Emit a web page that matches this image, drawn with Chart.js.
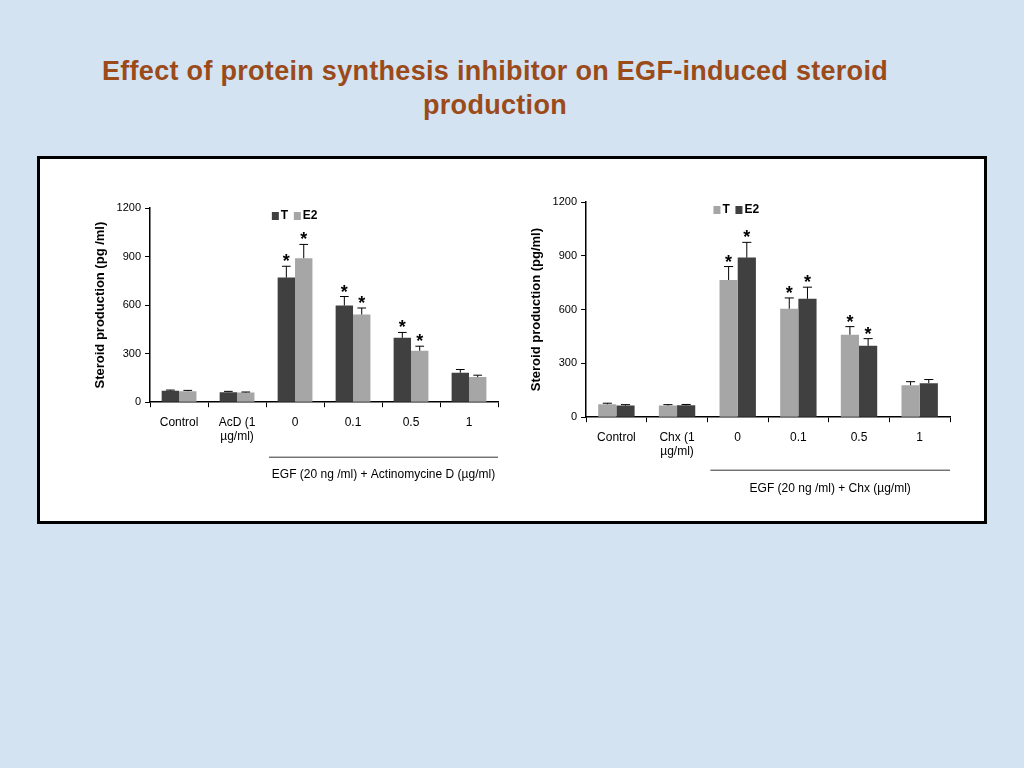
<!DOCTYPE html>
<html><head><meta charset="utf-8">
<script src="https://cdn.jsdelivr.net/npm/chart.js@4"></script>
<style>
body{margin:0;width:1024px;height:768px;background:#d3e3f1;position:relative;overflow:hidden;font-family:'Liberation Sans',Arial,sans-serif}
#title{position:absolute;left:0;width:990px;top:54px;text-align:center;color:#9b4a1a;font-weight:bold;font-size:27px;line-height:34px;letter-spacing:0.3px}
#box{position:absolute;left:37px;top:156px;width:944px;height:362px;background:#fff;border:3px solid #000}
.c{position:absolute}
</style></head><body>
<div id="title">Effect of protein synthesis inhibitor on EGF-induced steroid<br>production</div>
<div id="box"></div>
<div class="c" style="left:85px;top:188px;width:425px;height:305px"><canvas id="c1"></canvas></div>
<div class="c" style="left:525px;top:182px;width:435px;height:325px"><canvas id="c2"></canvas></div>
<script>
const labels1=['Control',['AcD (1','µg/ml)'],'0','0.1','0.5','1'];
const labels2=['Control',['Chx (1','µg/ml)'],'0','0.1','0.5','1'];
const yTicks=[0,300,600,900,1200];
const leftT=[70,62,770,598,398,182];
const leftE2=[68,60,890,542,318,155];
const leftTerr=[5,5,70,55,33,20];
const leftE2err=[5,3,85,40,28,12];
const rightT=[72,65,765,605,460,178];
const rightE2=[65,66,890,660,398,190];
const rightTerr=[6,5,75,60,45,20];
const rightE2err=[5,5,85,65,40,20];
const starsAt=[false,false,true,true,true,false];
const DARK='#404040',LIGHT='#a6a6a6';
const FONT="'Liberation Sans Narrow','Liberation Sans',Arial,sans-serif";

function make(id,labels,T,E2,Terr,E2err,cT,cE,footer,yTitle,pad,fOff,tOff){
  const errs=[Terr,E2err];
  const plugin={id:'extra',afterDatasetsDraw(ch){
    const ctx=ch.ctx;ctx.save();
    ch.data.datasets.forEach((ds,di)=>{
      const meta=ch.getDatasetMeta(di);
      meta.data.forEach((bar,i)=>{
        const v=ds.data[i],e=errs[di][i];
        const yt=ch.scales.y.getPixelForValue(v+e),yb=ch.scales.y.getPixelForValue(v);
        ctx.strokeStyle='#000';ctx.lineWidth=1;ctx.beginPath();
        ctx.moveTo(bar.x,yb);ctx.lineTo(bar.x,yt);ctx.moveTo(bar.x-bar.width/4,yt);ctx.lineTo(bar.x+bar.width/4,yt);ctx.stroke();
        if(starsAt[i]){ctx.fillStyle='#000';ctx.font='bold 18px '+FONT;ctx.textAlign='center';ctx.fillText('*',bar.x,yt+1);}
      });
    });
    const a=ch.chartArea;const lx=a.left+(a.right-a.left)*0.35,ly=a.top+8;
    ctx.font='bold 12px '+FONT;ctx.textBaseline='middle';ctx.textAlign='left';
    ctx.fillStyle=cT;ctx.fillRect(lx,ly-4,7,8);ctx.fillStyle='#000';ctx.fillText('T',lx+9,ly);
    ctx.fillStyle=cE;ctx.fillRect(lx+22,ly-4,7,8);ctx.fillStyle='#000';ctx.fillText('E2',lx+31,ly);
    const x2=ch.scales.x;const l=x2.getPixelForValue(2)-x2.width/12*0.9,r=a.right;
    const fy=a.bottom+fOff;
    ctx.strokeStyle='#333';ctx.beginPath();ctx.moveTo(l,fy);ctx.lineTo(r,fy);ctx.stroke();
    ctx.font='12px '+FONT;ctx.textAlign='center';ctx.textBaseline='alphabetic';
    ctx.fillText(footer,(l+r)/2,fy+tOff);
    ctx.restore();
  }};
  new Chart(document.getElementById(id),{type:'bar',
    data:{labels,datasets:[{label:'T',data:T,backgroundColor:cT,categoryPercentage:0.6,barPercentage:1},
      {label:'E2',data:E2,backgroundColor:cE,categoryPercentage:0.6,barPercentage:1}]},
    options:{animation:false,responsive:true,maintainAspectRatio:false,
      layout:{padding:pad},
      plugins:{legend:{display:false},tooltip:{enabled:false}},
      scales:{
        x:{offset:true,grid:{display:true,drawOnChartArea:false,color:'#000',tickLength:5,offset:true},border:{color:'#000',width:1.5},
          ticks:{color:'#000',font:{family:FONT,size:12},maxRotation:0,padding:8}},
        y:{min:0,max:1200,afterBuildTicks:s=>{s.ticks=yTicks.map(v=>({value:v}));},
          grid:{display:true,drawOnChartArea:false,color:'#000',tickLength:5},border:{color:'#000',width:1.5},
          ticks:{color:'#000',font:{family:FONT,size:11},padding:4,callback:v=>String(v)},
          title:{display:true,text:yTitle,color:'#000',font:{family:FONT,size:13,weight:'bold'}}}
      }}, plugins:[plugin]});
}
make('c1',labels1,leftT,leftE2,leftTerr,leftE2err,DARK,LIGHT,'EGF (20 ng /ml) + Actinomycine D (µg/ml)','Steroid production (pg /ml)',{left:4,right:12,top:20,bottom:41},55,21);
make('c2',labels2,rightT,rightE2,rightTerr,rightE2err,LIGHT,DARK,'EGF (20 ng /ml) + Chx (µg/ml)','Steroid production (pg/ml)',{left:0,right:10,top:20,bottom:40},53,22);
</script></body></html>
